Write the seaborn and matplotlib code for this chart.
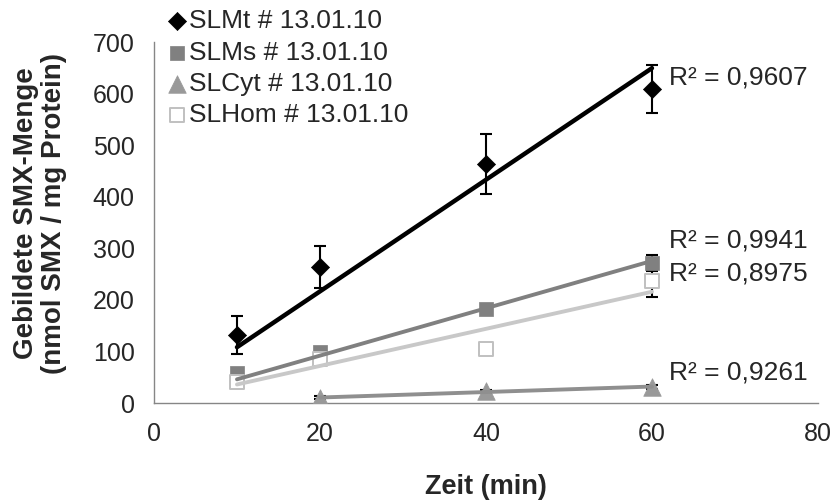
import numpy as np
import pandas as pd
import matplotlib
matplotlib.use("Agg")
import matplotlib.pyplot as plt
import seaborn as sns

# data (time in min, SMX in nmol / mg protein)
series = ["SLMt # 13.01.10", "SLMs # 13.01.10", "SLCyt # 13.01.10", "SLHom # 13.01.10"]
zeit = {
    "SLMt # 13.01.10": [10, 20, 40, 60],
    "SLMs # 13.01.10": [10, 20, 40, 60],
    "SLCyt # 13.01.10": [20, 40, 60],
    "SLHom # 13.01.10": [10, 20, 40, 60],
}
menge = {
    "SLMt # 13.01.10": [132, 264, 464, 609],
    "SLMs # 13.01.10": [58, 98, 183, 272],
    "SLCyt # 13.01.10": [10, 23, 31],
    "SLHom # 13.01.10": [40, 86, 104, 237],
}
fehler = {
    "SLMt # 13.01.10": [36, 40, 58, 47],
    "SLMs # 13.01.10": [5, 6, 5, 16],
    "SLCyt # 13.01.10": [3, 3, 3],
    "SLHom # 13.01.10": [4, 5, 4, 32],
}
r2_text = ["R² = 0,9607", "R² = 0,9941", "R² = 0,9261", "R² = 0,8975"]

# styles
farbe = {"SLMt # 13.01.10": "black", "SLMs # 13.01.10": "#808080",
         "SLCyt # 13.01.10": "#999999", "SLHom # 13.01.10": "#c0c0c0"}
linie = {"SLMt # 13.01.10": "black", "SLMs # 13.01.10": "#808080",
         "SLCyt # 13.01.10": "#8f8f8f", "SLHom # 13.01.10": "#c8c8c8"}
marker = {"SLMt # 13.01.10": "D", "SLMs # 13.01.10": "s",
          "SLCyt # 13.01.10": "^", "SLHom # 13.01.10": "s"}
groesse = {"SLMt # 13.01.10": 85, "SLMs # 13.01.10": 95,
           "SLCyt # 13.01.10": 160, "SLHom # 13.01.10": 95}
r2_pos = {"SLMt # 13.01.10": (62, 632), "SLMs # 13.01.10": (62, 316),
          "SLCyt # 13.01.10": (62, 60), "SLHom # 13.01.10": (62, 252)}

sns.set_style("white")
plt.rcParams["font.family"] = ["Liberation Sans", "DejaVu Sans"]

fig = plt.figure(figsize=(8.35, 5.01), dpi=100)
ax = fig.add_axes([0.1844, 0.1956, 0.7952, 0.7204])

for i, s in enumerate(series):
    df = pd.DataFrame({"Zeit": zeit[s], "Menge": menge[s]})
    # linear trendline through origin (like the Excel option)
    x = np.array(zeit[s], float)
    y = np.array(menge[s], float)
    b = (x * y).sum() / (x * x).sum()
    trend = pd.DataFrame({"Zeit": [x.min(), x.max()], "Menge": [b * x.min(), b * x.max()]})

    ax.errorbar(df["Zeit"], df["Menge"], yerr=fehler[s], fmt="none", ecolor="black",
                elinewidth=1.5, capsize=4.5, capthick=1.5, zorder=2)
    if s == "SLHom # 13.01.10":
        sns.scatterplot(data=df, x="Zeit", y="Menge", ax=ax, marker="s", s=groesse[s],
                        facecolor="white", edgecolor=farbe[s], linewidth=1.4,
                        zorder=3, label=s)
    else:
        sns.scatterplot(data=df, x="Zeit", y="Menge", ax=ax, marker=marker[s], s=groesse[s],
                        color=farbe[s], edgecolor=farbe[s], linewidth=0.5,
                        zorder=3, label=s)
    sns.lineplot(data=trend, x="Zeit", y="Menge", ax=ax, color=linie[s],
                 lw=3.2 if i == 0 else 2.8, zorder=4, legend=False)
    ax.text(r2_pos[s][0], r2_pos[s][1], r2_text[i], fontsize=19, va="center", ha="left")

ax.set_xlim(0, 80)
ax.set_ylim(0, 700)
ax.set_xticks([0, 20, 40, 60, 80])
ax.set_yticks(range(0, 701, 100))
ax.tick_params(axis="both", direction="out", length=6, width=1, color="#868686",
               labelsize=18, pad=8)
for side in ["top", "right"]:
    ax.spines[side].set_visible(False)
for side in ["left", "bottom"]:
    ax.spines[side].set_color("#868686")
    ax.spines[side].set_linewidth(1)

ax.set_xlabel("Zeit (min)", fontsize=19.5, fontweight="bold", labelpad=20)
ax.set_ylabel("Gebildete SMX-Menge\n(nmol SMX / mg Protein)", fontsize=20,
              fontweight="bold", linespacing=1.1)
ax.yaxis.set_label_coords(-0.131, 0.525)

leg = ax.legend(loc="upper left", bbox_to_anchor=(0.185, 1.008), bbox_transform=fig.transFigure,
                frameon=False, fontsize=19, handletextpad=0.1, handlelength=0.7,
                labelspacing=0.28, borderpad=0, markerscale=1.0)

fig.savefig("out.png", dpi=100)
